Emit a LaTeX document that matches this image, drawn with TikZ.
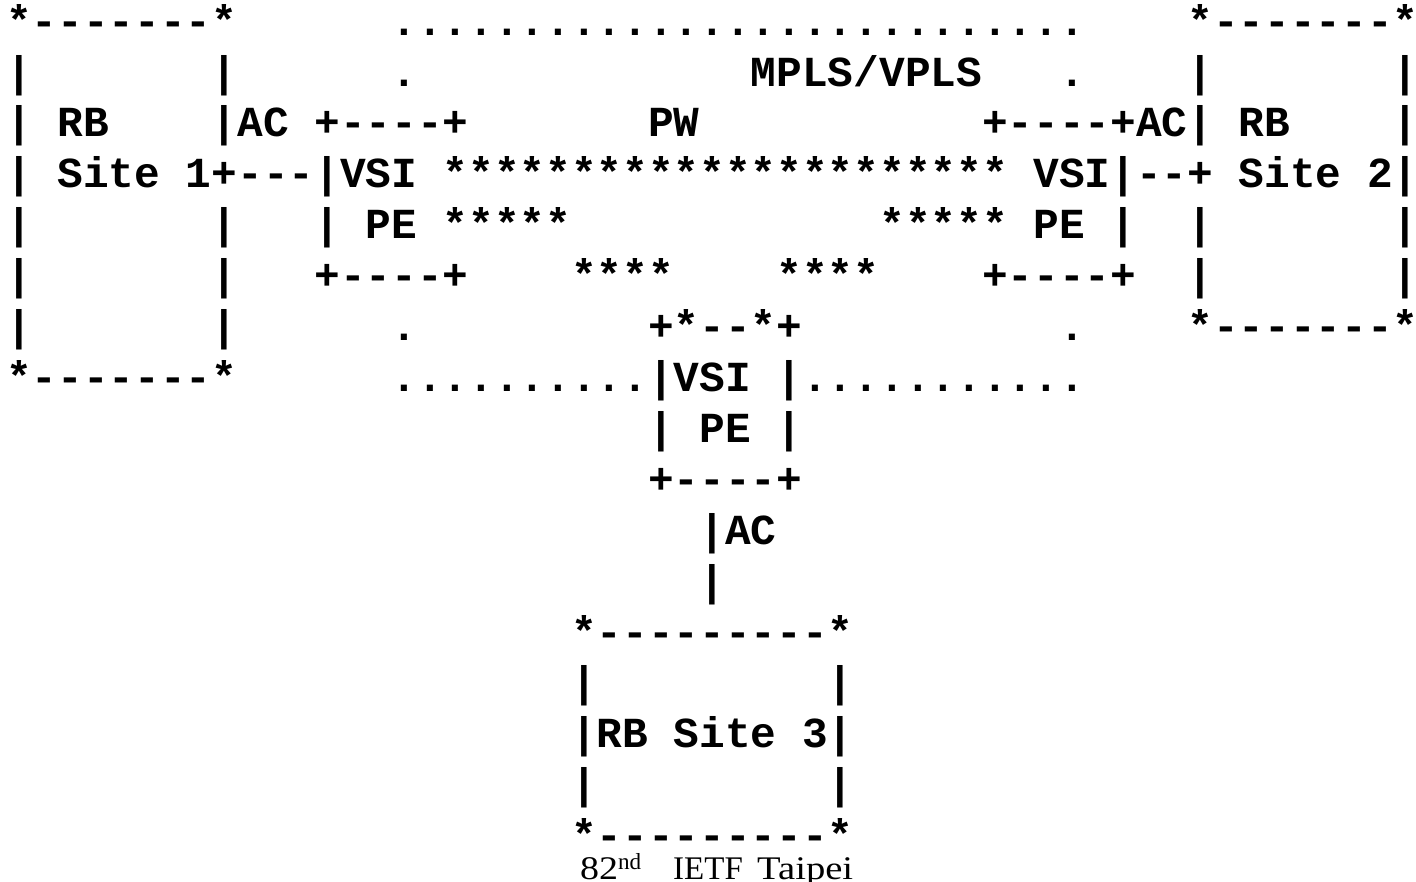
\documentclass[tikz,border=0pt]{standalone}
\usepackage{fontspec}
\setmainfont{Liberation Serif}
\setmonofont{Liberation Mono}
\begin{document}
\begin{tikzpicture}[x=25.68pt, y=-50.9pt,
        art/.style={font=\ttfamily\bfseries\fontsize{42.8}{50}\selectfont, anchor=base west, inner sep=0pt, outer sep=0pt},
        footer/.style={font=\fontsize{33}{36}\selectfont, anchor=base west, inner sep=0pt}
    ]

    \useasboundingbox[fill=white] (0pt,0pt) rectangle (1416pt,-882pt);

    \begin{scope}[shift={(6.2pt,-35.2pt)}]
        % top row
        \node[art] (siteonetop) at (0,0) {*-------*};
        \node[art] (cloudtop) at (15,0) {...........................};
        \node[art] (sitetwotop) at (46,0) {*-------*};

        % MPLS/VPLS label
        \node[art] (siteoneedgeA) at (0,1) {|};
        \node[art] (siteoneedgeB) at (8,1) {|};
        \node[art] (cloudleftA) at (15,1) {.};
        \node[art] (mpls) at (29,1) {MPLS/VPLS};
        \node[art] (cloudrightA) at (41,1) {.};
        \node[art] (sitetwoedgeA) at (46,1) {|};
        \node[art] (sitetwoedgeB) at (54,1) {|};

        % RB labels, PE tops, PW
        \node[art] (rbone) at (0,2) {| RB};
        \node[art] (acone) at (8,2) {|AC +----+};
        \node[art] (pw) at (25,2) {PW};
        \node[art] (actwo) at (38,2) {+----+AC| RB};
        \node[art] (sitetwoedgeC) at (54,2) {|};

        % VSI row with the pseudowire
        \node[art] (vsirow) at (0,3) {| Site 1+---|VSI ********************** VSI|--+ Site 2|};

        % PE row
        \node[art] (siteoneedgeC) at (0,4) {|};
        \node[art] (siteoneedgeD) at (8,4) {|};
        \node[art] (peone) at (12,4) {| PE *****};
        \node[art] (petwo) at (34,4) {***** PE |};
        \node[art] (sitetwoedgeD) at (46,4) {|};
        \node[art] (sitetwoedgeE) at (54,4) {|};

        % PE bottoms
        \node[art] (siteoneedgeE) at (0,5) {|};
        \node[art] (siteoneedgeF) at (8,5) {|};
        \node[art] (peonebot) at (12,5) {+----+};
        \node[art] (pwleft) at (22,5) {****};
        \node[art] (pwright) at (30,5) {****};
        \node[art] (petwobot) at (38,5) {+----+};
        \node[art] (sitetwoedgeF) at (46,5) {|};
        \node[art] (sitetwoedgeG) at (54,5) {|};

        % third PE top
        \node[art] (siteoneedgeG) at (0,6) {|};
        \node[art] (siteoneedgeH) at (8,6) {|};
        \node[art] (cloudleftB) at (15,6) {.};
        \node[art] (pethreetop) at (25,6) {+*--*+};
        \node[art] (cloudrightB) at (41,6) {.};
        \node[art] (sitetwobot) at (46,6) {*-------*};

        % cloud bottom
        \node[art] (siteonebot) at (0,7) {*-------*};
        \node[art] (cloudbot) at (15,7) {..........|VSI |...........};

        % third PE and AC
        \node[art] (pethree) at (25,8) {| PE |};
        \node[art] (pethreebot) at (25,9) {+----+};
        \node[art] (acthree) at (27,10) {|AC};
        \node[art] (acthreebot) at (27,11) {|};

        % RB Site 3
        \node[art] (sitethreetop) at (22,12) {*---------*};
        \node[art] (sitethreeedgeA) at (22,13) {|};
        \node[art] (sitethreeedgeB) at (32,13) {|};
        \node[art] (sitethree) at (22,14) {|RB Site 3|};
        \node[art] (sitethreeedgeC) at (22,15) {|};
        \node[art] (sitethreeedgeD) at (32,15) {|};
        \node[art] (sitethreebot) at (22,16) {*---------*};
    \end{scope}

    % footer
    \node[footer] (meeting) at (580pt,-879pt) {\scalebox{1.15}[1]{82}\textsuperscript{nd}};
    \node[footer] (ietf) at (673pt,-879pt) {IETF};
    \node[footer] (city) at (757pt,-879pt) {\scalebox{1.17}[1]{Taipei}};

\end{tikzpicture}
\end{document}
